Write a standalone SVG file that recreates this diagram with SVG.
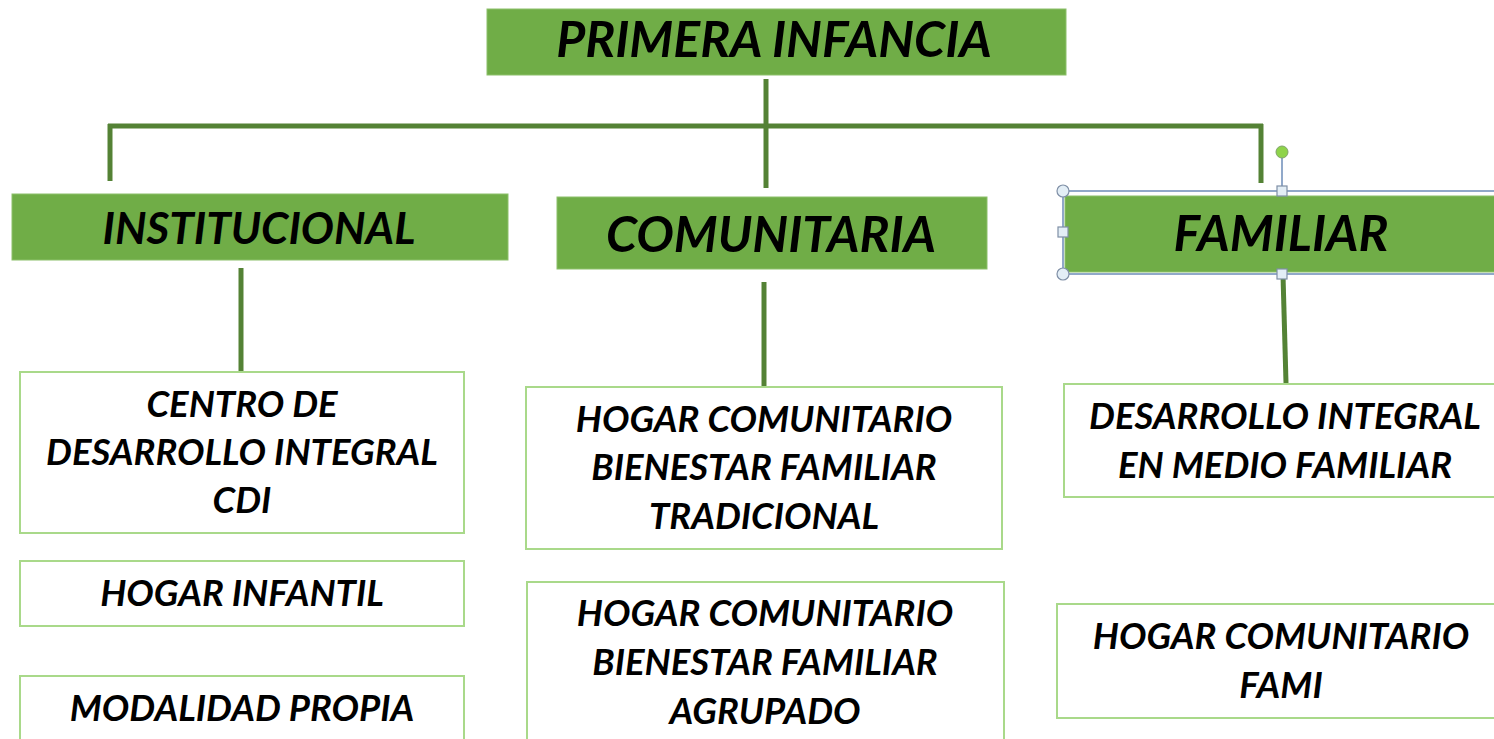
<svg xmlns="http://www.w3.org/2000/svg" width="1494" height="739" viewBox="0 0 1494 739">
<style>
.hdr{fill:#70AD47;stroke:#8CC06A;stroke-width:1}
.box{fill:#FFFFFF;stroke:#A9D98A;stroke-width:2}
.t{font-family:Lato,"Open Sans",sans-serif;font-weight:bold;font-style:italic;fill:#000;text-anchor:middle}
.h1{font-size:50px}
.h2{font-size:44px}
.b{font-size:36.5px}
.con{stroke:#548235;stroke-width:5;fill:none}
.sel{fill:none;stroke:#6D8CB8;stroke-width:1.5}
.hc{fill:#E3EEF6;stroke:#7F8FA6;stroke-width:1.2}
</style>
<rect width="1494" height="739" fill="#FFFFFF"/>
<g id="connectors">
<line class="con" x1="766" y1="79" x2="766" y2="188"/>
<line class="con" x1="108" y1="126" x2="1263" y2="126"/>
<line class="con" x1="110" y1="124" x2="110" y2="181"/>
<line class="con" x1="1261" y1="124" x2="1261" y2="183"/>
<line class="con" x1="241" y1="268" x2="241" y2="371"/>
<line class="con" x1="764" y1="282" x2="764" y2="386"/>
<line class="con" x1="1283" y1="275" x2="1286" y2="383"/>
</g>
<g id="primera-infancia">
<rect class="hdr" x="487" y="9" width="579" height="66"/>
<text class="t h1" x="774" y="57">PRIMERA INFANCIA</text>
</g>
<g id="institucional">
<rect class="hdr" x="12" y="194" width="496" height="66"/>
<text class="t h2" x="259" y="244">INSTITUCIONAL</text>
</g>
<g id="comunitaria">
<rect class="hdr" x="557" y="197" width="430" height="72"/>
<text class="t h1" x="771" y="252">COMUNITARIA</text>
</g>
<g id="familiar">
<rect class="hdr" x="1065" y="196" width="435" height="76"/>
<text class="t h1" x="1281" y="251">FAMILIAR</text>
<rect class="sel" x="1063" y="191" width="440" height="83"/>
<line class="sel" x1="1282" y1="158" x2="1282" y2="187"/>
<circle cx="1282" cy="152" r="6" fill="#8ED34A" stroke="#7FA36A" stroke-width="1"/>
<circle class="hc" cx="1063" cy="191" r="6"/>
<circle class="hc" cx="1063" cy="274" r="6"/>
<rect class="hc" x="1058" y="227" width="10" height="10"/>
<rect class="hc" x="1277" y="186" width="10" height="10"/>
<rect class="hc" x="1277" y="269" width="10" height="10"/>
</g>
<g id="cdi">
<rect class="box" x="20" y="372" width="444" height="161"/>
<text class="t b" x="242" y="417">CENTRO DE</text>
<text class="t b" x="242" y="465">DESARROLLO INTEGRAL</text>
<text class="t b" x="242" y="513">CDI</text>
</g>
<g id="hogar-infantil">
<rect class="box" x="20" y="561" width="444" height="65"/>
<text class="t b" x="242" y="606">HOGAR INFANTIL</text>
</g>
<g id="modalidad-propia">
<rect class="box" x="20" y="676" width="444" height="70"/>
<text class="t b" x="242" y="721">MODALIDAD PROPIA</text>
</g>
<g id="hc-tradicional">
<rect class="box" x="526" y="387" width="476" height="162"/>
<text class="t b" x="764" y="432">HOGAR COMUNITARIO</text>
<text class="t b" x="764" y="480">BIENESTAR FAMILIAR</text>
<text class="t b" x="764" y="529">TRADICIONAL</text>
</g>
<g id="hc-agrupado">
<rect class="box" x="527" y="582" width="477" height="165"/>
<text class="t b" x="765" y="626">HOGAR COMUNITARIO</text>
<text class="t b" x="765" y="675">BIENESTAR FAMILIAR</text>
<text class="t b" x="765" y="724">AGRUPADO</text>
</g>
<g id="desarrollo-familiar">
<rect class="box" x="1064" y="384" width="440" height="113"/>
<text class="t b" x="1285" y="429">DESARROLLO INTEGRAL</text>
<text class="t b" x="1285" y="478">EN MEDIO FAMILIAR</text>
</g>
<g id="hc-fami">
<rect class="box" x="1057" y="604" width="447" height="114"/>
<text class="t b" x="1281" y="649">HOGAR COMUNITARIO</text>
<text class="t b" x="1281" y="698">FAMI</text>
</g>
</svg>
